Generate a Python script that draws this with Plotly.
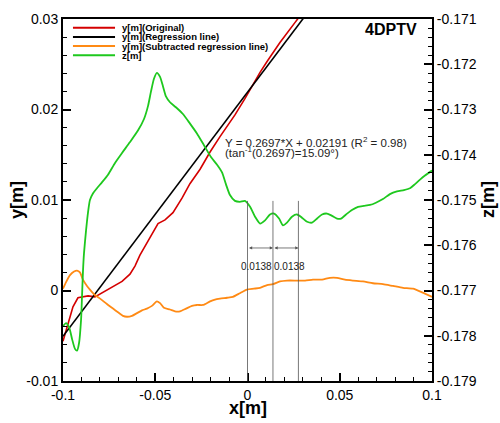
import plotly.graph_objects as go

# ---------------- data ----------------
# y[m] (Original)
x_orig = [-0.1, -0.0973, -0.0946, -0.0919, -0.0897, -0.0864, -0.0827, -0.0783, -0.0729,
          -0.0680, -0.0637, -0.0610, -0.0583, -0.0528, -0.0485, -0.0447, -0.0404, -0.0355,
          -0.0312, -0.0257, -0.0203, -0.0149, -0.0068, -0.0014, 0.0024, 0.0068, 0.0106,
          0.0176, 0.0257, 0.0339]
y_orig = [-0.0056, -0.0038, -0.0018, -0.0008, -0.0007, -0.0006, -0.0007, -0.0002, 0.0004,
          0.0010, 0.0018, 0.0027, 0.0039, 0.0058, 0.0074, 0.0078, 0.0086, 0.0102,
          0.0118, 0.0134, 0.0153, 0.0170, 0.0194, 0.0212, 0.0226, 0.0241, 0.0253,
          0.0274, 0.0296, 0.0318]

# y[m] (Regression line): Y = 0.2697*X + 0.02191, end points
reg_x = [-0.1, 0.1]
reg_y = [-0.00506, 0.04888]

# y[m] (Subtracted regression line)
x_sub = [-0.1, -0.0984, -0.0962, -0.0940, -0.0924, -0.0908, -0.0892, -0.0870, -0.0854,
         -0.0827, -0.0799, -0.0762, -0.0729, -0.0702, -0.0675, -0.0653, -0.0626, -0.0599,
         -0.0572, -0.0545, -0.0518, -0.0491, -0.0474, -0.0453, -0.0420, -0.0393, -0.0366,
         -0.0333, -0.0301, -0.0274, -0.0241, -0.0203, -0.0176, -0.0149, -0.0111, -0.0079,
         -0.0041, -0.0003, 0.0035, 0.0068, 0.0106, 0.0138, 0.0176, 0.0214, 0.0268, 0.0312,
         0.0355, 0.0404, 0.0447, 0.0485, 0.0528, 0.0572, 0.0626, 0.0680, 0.0734, 0.0789,
         0.0843, 0.0897, 0.0946, 0.1]
y_sub = [0.0002, 0.0009, 0.0017, 0.0021, 0.0022, 0.0020, 0.0012, 0.0005, 0.0001,
         -0.0005, -0.0009, -0.0015, -0.0020, -0.0024, -0.0028, -0.0029, -0.0028, -0.0025,
         -0.0022, -0.0020, -0.0017, -0.0012, -0.0014, -0.0019, -0.0021, -0.0023, -0.0023,
         -0.0020, -0.0017, -0.0016, -0.0016, -0.0012, -0.0010, -0.0009, -0.0008, -0.0007,
         -0.0003, 0.0001, 0.0002, 0.0003, 0.0006, 0.0007, 0.0010, 0.0011, 0.0011, 0.0011,
         0.0012, 0.0012, 0.0014, 0.0014, 0.0012, 0.0011, 0.0010, 0.0008, 0.0007, 0.0005,
         0.0003, 0.0002, -0.0002, -0.0007]

# z[m]
x_z = [-0.1, -0.0984, -0.0967, -0.0951, -0.0935, -0.0924, -0.0913, -0.0902, -0.0897,
       -0.0892, -0.0886, -0.0875, -0.0864, -0.0854, -0.0837, -0.0816, -0.0789, -0.0756,
       -0.0718, -0.0680, -0.0637, -0.0593, -0.0561, -0.0539, -0.0523, -0.0507, -0.0491,
       -0.0474, -0.0458, -0.0442, -0.0420, -0.0388, -0.0350, -0.0312, -0.0274, -0.0236,
       -0.0198, -0.0165, -0.0138, -0.0117, -0.0095, -0.0068, -0.0041, -0.0014, 0.0014,
       0.0041, 0.0068, 0.0095, 0.0122, 0.0144, 0.0171, 0.0192, 0.0214, 0.0241, 0.0268,
       0.0295, 0.0323, 0.0350, 0.0377, 0.0404, 0.0431, 0.0458, 0.0485, 0.0507, 0.0534,
       0.0566, 0.0599, 0.0631, 0.0664, 0.0696, 0.0734, 0.0772, 0.0810, 0.0848, 0.0881,
       0.0908, 0.0935, 0.0962, 0.1]
z_vals = [-0.17779, -0.17772, -0.17781, -0.17807, -0.17829, -0.17833, -0.17816, -0.17764,
          -0.17714, -0.17660, -0.17617, -0.17567, -0.17526, -0.17500, -0.17485, -0.17474,
          -0.17461, -0.17444, -0.17418, -0.17396, -0.17372, -0.17346, -0.17321, -0.17292,
          -0.17260, -0.17232, -0.17219, -0.17228, -0.17249, -0.17271, -0.17284, -0.17295,
          -0.17310, -0.17331, -0.17353, -0.17379, -0.17405, -0.17422, -0.17439, -0.17465,
          -0.17489, -0.17502, -0.17504, -0.17502, -0.17515, -0.17537, -0.17552, -0.17545,
          -0.17532, -0.17530, -0.17541, -0.17556, -0.17550, -0.17537, -0.17532, -0.17539,
          -0.17548, -0.17550, -0.17541, -0.17532, -0.17530, -0.17535, -0.17541, -0.17541,
          -0.17532, -0.17522, -0.17515, -0.17513, -0.17511, -0.17506, -0.17498, -0.17487,
          -0.17481, -0.17478, -0.17474, -0.17465, -0.17455, -0.17446, -0.17435]

# period markers
marker_x = [0.0, 0.0138, 0.0276]
marker_top = 0.0099
period_labels = ["0.0138", "0.0138"]
period_label_x = [0.0050, 0.0226]

legend_names = ["y[m](Original)", "y[m](Regression line)",
                "y[m](Subtracted regression line)", "z[m]"]
colors = ["#d40000", "#000000", "#ff8a14", "#1ec81e"]

eq_line1 = "Y = 0.2697*X + 0.02191 (R<sup>2</sup> = 0.98)"
eq_line2 = "(tan<sup>-1</sup>(0.2697)=15.09°)"

x_tickvals = [-0.1, -0.05, 0, 0.05, 0.1]
x_ticktext = ["-0.1", "-0.05", "0", "0.05", "0.1"]
y_tickvals = [-0.01, 0, 0.01, 0.02, 0.03]
y_ticktext = ["-0.01", "0", "0.01", "0.02", "0.03"]
z_tickvals = [-0.179, -0.178, -0.177, -0.176, -0.175, -0.174, -0.173, -0.172, -0.171]
z_ticktext = ["-0.179", "-0.178", "-0.177", "-0.176", "-0.175", "-0.174", "-0.173",
              "-0.172", "-0.171"]

FONT = "Arial, 'Liberation Sans', sans-serif"

fig = go.Figure()
fig.add_trace(go.Scatter(x=x_orig, y=y_orig, mode="lines", name=legend_names[0],
                         line=dict(color=colors[0], width=1.6)))
fig.add_trace(go.Scatter(x=reg_x, y=reg_y, mode="lines", name=legend_names[1],
                         line=dict(color=colors[1], width=1.6)))
fig.add_trace(go.Scatter(x=x_sub, y=y_sub, mode="lines", name=legend_names[2],
                         line=dict(color=colors[2], width=1.8, shape="spline", smoothing=0.6)))
fig.add_trace(go.Scatter(x=x_z, y=z_vals, mode="lines", name=legend_names[3], yaxis="y2",
                         line=dict(color=colors[3], width=1.8, shape="spline", smoothing=0.6)))

shapes = []
for mx in marker_x:
    shapes.append(dict(type="line", xref="x", yref="y", x0=mx, x1=mx, y0=-0.01, y1=marker_top,
                       line=dict(color="#555555", width=0.8)))
# legend lines
leg_y = [0.9757, 0.9505, 0.9251, 0.9]
for c, ly in zip(colors, leg_y):
    shapes.append(dict(type="line", xref="paper", yref="paper", x0=0.027, x1=0.141,
                       y0=ly, y1=ly, line=dict(color=c, width=2)))

annotations = []
for name, ly in zip(legend_names, leg_y):
    annotations.append(dict(xref="paper", yref="paper", x=0.1545, y=ly, text="<b>%s</b>" % name,
                            showarrow=False, xanchor="left", yanchor="middle",
                            font=dict(family=FONT, size=9.5, color="black")))
# arrows between markers
for a, b in zip(marker_x[:-1], marker_x[1:]):
    annotations.append(dict(xref="x", yref="y", axref="x", ayref="y", x=b, y=0.0047,
                            ax=a, ay=0.0047, text="", showarrow=True, arrowhead=2,
                            arrowside="end+start", arrowsize=0.8, arrowwidth=0.8,
                            arrowcolor="#555555"))
for lab, lx in zip(period_labels, period_label_x):
    annotations.append(dict(xref="x", yref="y", x=lx, y=0.00265, text=lab, showarrow=False,
                            xanchor="center", yanchor="middle",
                            font=dict(family=FONT, size=10, color="#222222")))
annotations.append(dict(xref="x", yref="y", x=-0.0135, y=0.0164, text=eq_line1,
                        showarrow=False, xanchor="left", yanchor="middle",
                        font=dict(family=FONT, size=11.5, color="#222222")))
annotations.append(dict(xref="x", yref="y", x=-0.0135, y=0.0153, text=eq_line2,
                        showarrow=False, xanchor="left", yanchor="middle",
                        font=dict(family=FONT, size=11.5, color="#222222")))
annotations.append(dict(xref="paper", yref="paper", x=0.966, y=0.972, text="<b>4DPTV</b>",
                        showarrow=False, xanchor="right", yanchor="middle",
                        font=dict(family=FONT, size=16, color="black")))
# axis titles
annotations.append(dict(xref="paper", yref="paper", x=0.5014, y=-0.0745, text="<b>x[m]</b>",
                        showarrow=False, xanchor="center", yanchor="middle",
                        font=dict(family=FONT, size=18, color="black")))
annotations.append(dict(xref="paper", yref="paper", x=-0.1247, y=0.5, text="<b>y[m]</b>",
                        showarrow=False, xanchor="center", yanchor="middle", textangle=-90,
                        font=dict(family=FONT, size=18, color="black")))
annotations.append(dict(xref="paper", yref="paper", x=1.152, y=0.5, text="<b>z[m]</b>",
                        showarrow=False, xanchor="center", yanchor="middle", textangle=-90,
                        font=dict(family=FONT, size=18, color="black")))

tickfont = dict(family=FONT, size=14, color="black")
fig.update_layout(
    width=500, height=423,
    margin=dict(l=63, r=68, t=11, b=42),
    paper_bgcolor="white", plot_bgcolor="white",
    showlegend=False,
    shapes=shapes, annotations=annotations,
    xaxis=dict(range=[-0.1, 0.1], tickmode="array", tickvals=x_tickvals, ticktext=x_ticktext,
               ticks="inside", ticklen=8, tickwidth=2, tickcolor="black",
               minor=dict(ticks="inside", ticklen=4, tickwidth=1, tickcolor="black",
                          dtick=0.01, tick0=0, showgrid=False),
               showline=True, linecolor="black", linewidth=2, mirror=True,
               showgrid=False, zeroline=False, tickfont=tickfont),
    yaxis=dict(range=[-0.01, 0.03], tickmode="array", tickvals=y_tickvals, ticktext=y_ticktext,
               ticks="inside", ticklen=8, tickwidth=2, tickcolor="black",
               minor=dict(ticks="inside", ticklen=4, tickwidth=1, tickcolor="black",
                          dtick=0.002, tick0=0, showgrid=False),
               showline=True, linecolor="black", linewidth=2,
               showgrid=False, zeroline=False, tickfont=tickfont),
    yaxis2=dict(range=[-0.179, -0.171], overlaying="y", side="right", tickmode="array",
                tickvals=z_tickvals, ticktext=z_ticktext,
                ticks="inside", ticklen=8, tickwidth=2, tickcolor="black",
                minor=dict(ticks="inside", ticklen=4, tickwidth=1, tickcolor="black",
                           dtick=0.0002, tick0=-0.179, showgrid=False),
                showline=True, linecolor="black", linewidth=2,
                showgrid=False, zeroline=False, tickfont=tickfont),
)

fig.write_html("out.html")
